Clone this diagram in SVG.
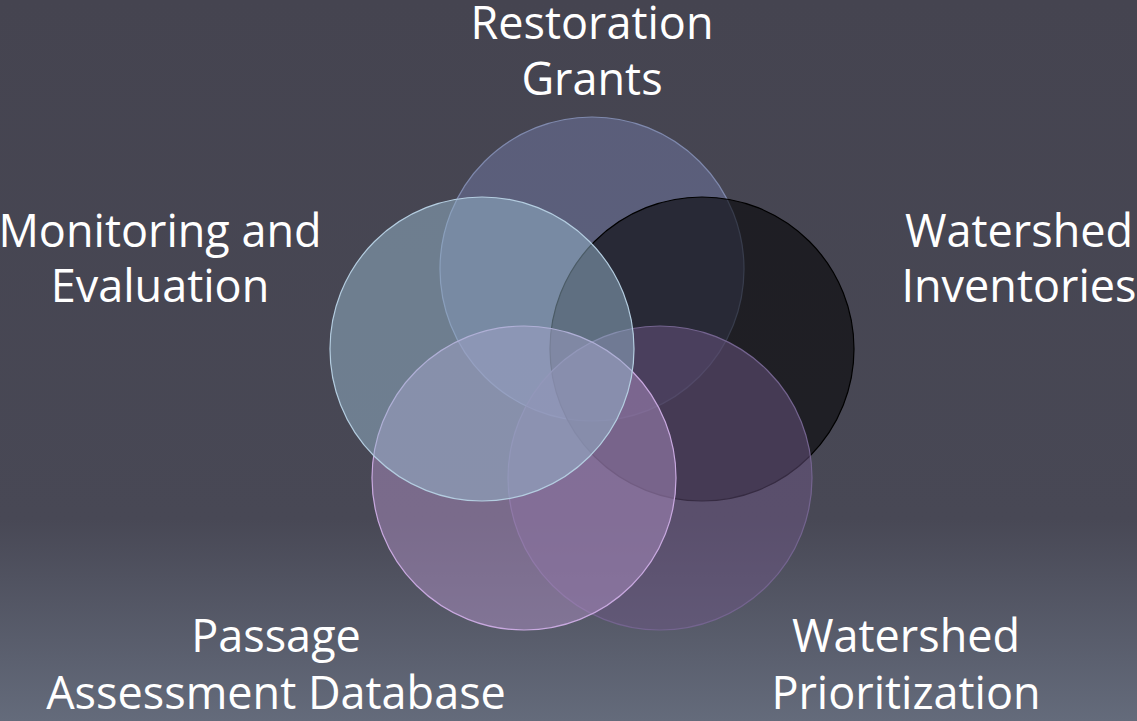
<svg xmlns="http://www.w3.org/2000/svg" width="1137" height="721" viewBox="0 0 1137 721">
<defs>
<linearGradient id="bg" x1="0" y1="0" x2="0" y2="1">
<stop offset="0" stop-color="#454450"/>
<stop offset="0.72" stop-color="#484855"/>
<stop offset="1" stop-color="#646b7b"/>
</linearGradient>
<style>
.lbl{font-family:"Open Sans","DejaVu Sans",sans-serif;font-size:45px;fill:#ffffff;text-anchor:middle}
.c{stroke-width:1.2}
</style>
</defs>
<rect x="0" y="0" width="1137" height="721" fill="url(#bg)"/>
<g id="node-restoration">
<circle class="c" cx="592" cy="269" r="152" fill="#6f78a3" fill-opacity="0.5" stroke="#7f89ad"/>
<text class="lbl" x="592" y="39">Restoration</text>
<text class="lbl" x="592" y="95">Grants</text>
</g>
<g id="node-inventories">
<circle class="c" cx="702" cy="349" r="152" fill="#000000" fill-opacity="0.56" stroke="#000000"/>
<text class="lbl" x="1019" y="247">Watershed</text>
<text class="lbl" x="1019" y="302">Inventories</text>
</g>
<g id="node-prioritization">
<circle class="c" cx="660" cy="478" r="152" fill="#6c5683" fill-opacity="0.5" stroke="#74648f"/>
<text class="lbl" x="906" y="652">Watershed</text>
<text class="lbl" x="906" y="709">Prioritization</text>
</g>
<g id="node-passage">
<circle class="c" cx="524" cy="478" r="152" fill="#ac8ec2" fill-opacity="0.5" stroke="#c9a9e0"/>
<text class="lbl" x="276" y="652">Passage</text>
<text class="lbl" x="276" y="709">Assessment Database</text>
</g>
<g id="node-monitoring">
<circle class="c" cx="482" cy="349" r="152" fill="#96b5cc" fill-opacity="0.5" stroke="#b4cde0"/>
<text class="lbl" x="160" y="247">Monitoring and</text>
<text class="lbl" x="160" y="302">Evaluation</text>
</g>
<g id="connectors"/>
</svg>
